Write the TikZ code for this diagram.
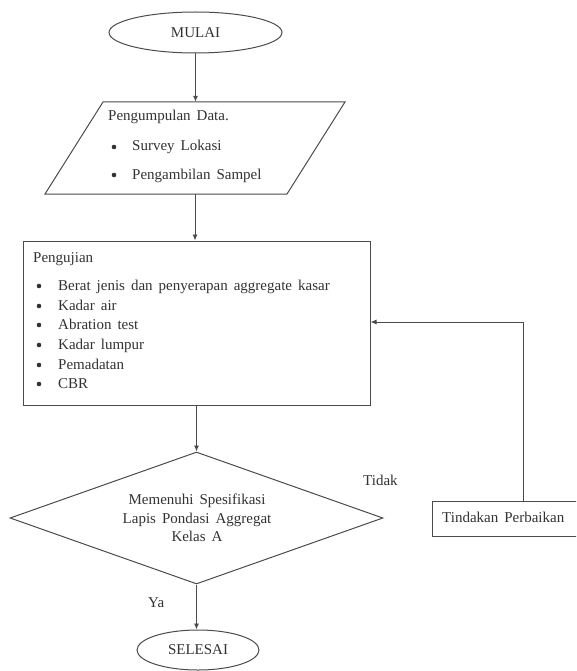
\documentclass[tikz,border=0pt]{standalone}
\usepackage{fontspec}
\setmainfont{Liberation Serif}
\usetikzlibrary{shapes.geometric,arrows.meta}
\definecolor{ink}{RGB}{50,50,50}
\definecolor{linec}{RGB}{75,75,75}
\newcommand{\wsp}{\spaceskip=6pt plus 1pt minus 1pt\relax}
\tikzset{
  lbl/.style={font=\fontsize{15}{19}\selectfont\wsp, text=ink, inner sep=0pt, anchor=base west},
  shp/.style={draw=linec, line width=1pt},
  conn/.style={draw=linec, line width=0.9pt, -{Latex[length=6pt,width=5pt]}},
  plain/.style={draw=linec, line width=0.9pt},
  dot/.style={circle, fill=ink, inner sep=0pt, minimum size=4.6pt},
}
\begin{document}
\begin{tikzpicture}[x=1pt,y=-1pt]
\useasboundingbox (0,0) rectangle (576,671);
\clip (0,0) rectangle (576,671);
% start
\node[shp, ellipse, minimum width=173pt, minimum height=41pt, inner sep=0pt,
      font=\fontsize{15}{18}\selectfont, text=ink] (start) at (195.5,32.5) {MULAI};
% data collection (parallelogram)
\node[minimum width=240pt, minimum height=92pt, inner sep=0pt] (pd) at (195,148) {};
\draw[shp] (103,102) -- (345,102) -- (287,194) -- (45,194) -- cycle;
\node[lbl] (pdt) at (108,121) {Pengumpulan Data.};
\node[dot] (pb1) at (114,147) {};
\node[lbl] (pi1) at (132,151) {Survey Lokasi};
\node[dot] (pb2) at (114,175) {};
\node[lbl] (pi2) at (132,179) {Pengambilan Sampel};
% testing box
\node[shp, rectangle, minimum width=347pt, minimum height=164pt, inner sep=0pt] (test) at (196.5,323) {};
\node[lbl] (tt) at (33,262) {Pengujian};
\foreach \yy/\txt [count=\i] in {285/Berat jenis dan penyerapan aggregate kasar, 305/Kadar air, 324/Abration test, 344/Kadar lumpur, 364/Pemadatan, 383/CBR}{
  \node[dot] (tb\i) at (39,\yy+1) {};
  \node[lbl] (ti\i) at (58,\yy+5) {\txt};
}
% decision
\node[shp, diamond, minimum width=373pt, minimum height=132pt, inner sep=0pt] (dec) at (196.5,518) {};
\node[font=\fontsize{15}{18.5}\selectfont\wsp, text=ink, align=center, inner sep=0pt] (dect) at (197,518)
  {Memenuhi Spesifikasi\\Lapis Pondasi Aggregat\\Kelas A};
% end
\node[shp, ellipse, minimum width=122pt, minimum height=40pt, inner sep=0pt,
      font=\fontsize{15}{18}\selectfont, text=ink] (end) at (198,650) {SELESAI};
% repair box
\node[shp, rectangle, minimum width=168pt, minimum height=35pt, inner sep=0pt] (fix) at (516,518.5) {};
\node[lbl] (fixt) at (442,522) {Tindakan Perbaikan};
% labels
\node[lbl] (tidak) at (363,485) {Tidak};
\node[lbl] (ya) at (148,607) {Ya};
% connectors
\draw[conn] (start.south) -- (start.south |- pd.north);
\draw[conn] (pd.south) -- (pd.south |- test.north);
\draw[conn] (test.south -| dec.north) -- (dec.north);
\draw[conn] (dec.south) -- (dec.south |- end.north);
\coordinate (fb) at (523,322);
\draw[plain] (fix.north -| fb) -- (fb);
\draw[conn] (fb) -- (test.east |- fb);
\end{tikzpicture}
\end{document}
